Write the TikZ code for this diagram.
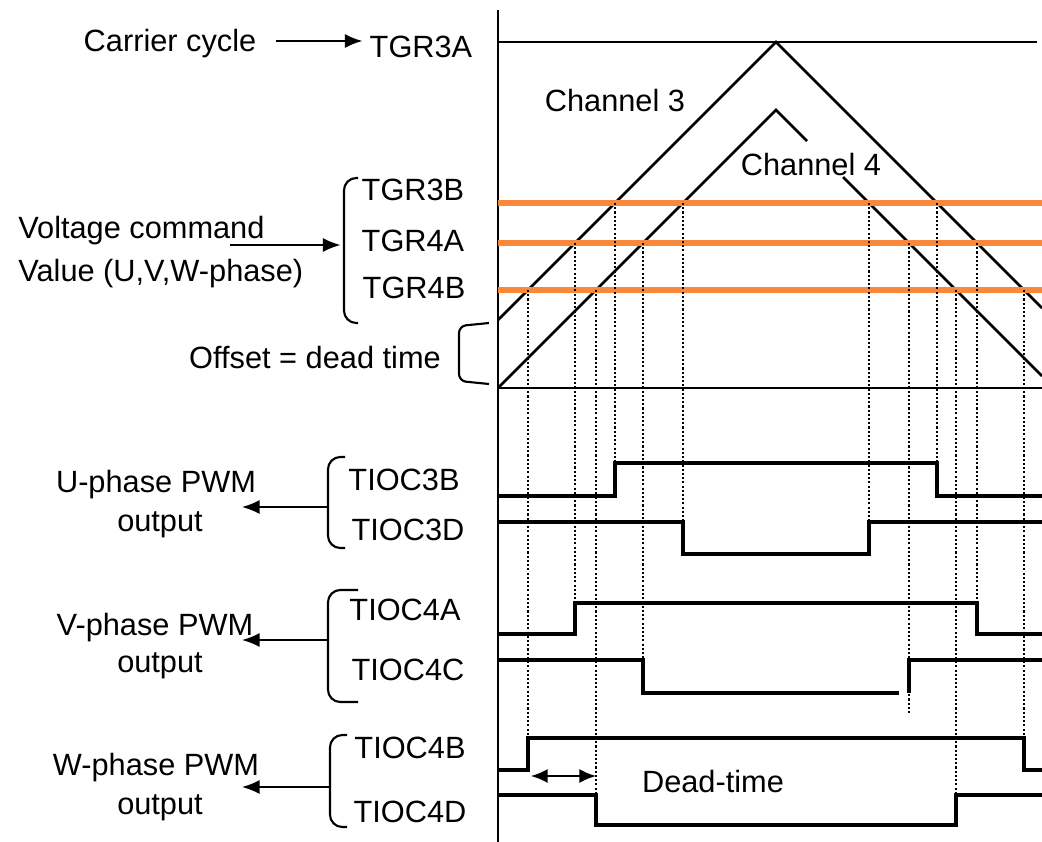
\documentclass[tikz,border=0pt]{standalone}
\usepackage{fontspec}
\setmainfont{Liberation Sans}
\usepackage{xcolor}
\usetikzlibrary{arrows.meta}
\definecolor{cmdorange}{RGB}{247,136,60}

\begin{document}
\begin{tikzpicture}[x=0.02cm,y=-0.02cm,
    lbl/.style={font=\fontsize{17.5}{21}\selectfont,inner sep=0pt,text height=12.5pt,text depth=0pt},
    axis line/.style={line width=1.6pt},
    wave/.style={line width=2.7pt,line join=miter},
    cmd line/.style={line width=3.2pt,draw=cmdorange},
    dot line/.style={line width=1.1pt,dash pattern=on 1.2pt off 1.2pt},
    bracket/.style={line width=1.2pt,rounded corners=7pt},
    arr/.style={line width=0.95pt,-{Latex[length=10pt,width=8pt]}},
    darr/.style={line width=0.95pt,{Latex[length=9.5pt,width=8pt]}-{Latex[length=9.5pt,width=8pt]}}]
  \useasboundingbox (0,0) rectangle (1042,842);

  \draw[axis line] (498,10) -- (498,842);
  \draw[axis line] (498,42) -- (1037,42);
  \draw[axis line] (498,388) -- (1042,388);
  \draw[axis line] (498,320) -- (776,42) -- (1042,308);
  \draw[axis line] (498,388) -- (776,110) -- (807,141);
  \draw[axis line] (843,177) -- (1042,376);

  \foreach \y in {203,243,290}
    \draw[cmd line] (498,\y) -- (1042,\y);

  \foreach \x/\ya/\yb in {528/290/738,575/243/603,596/290/795,615/203/463,
      643/243/660,683/203/522,869/203/522,909/243/713,937/203/463,
      956/290/795,977/243/603,1024/290/738}
    \draw[dot line] (\x,\ya) -- (\x,\yb);

  \draw[wave] (498,496) -- (615,496) -- (615,463) -- (937,463) -- (937,496) -- (1042,496);
  \draw[wave] (498,522) -- (683,522) -- (683,554) -- (869,554) -- (869,522) -- (1042,522);
  \draw[wave] (498,634) -- (575,634) -- (575,603) -- (977,603) -- (977,634) -- (1042,634);
  \draw[wave] (498,660) -- (643,660) -- (643,693) -- (899,693);
  \draw[wave] (909,693) -- (909,660) -- (1042,660);
  \draw[wave] (498,770) -- (528,770) -- (528,738) -- (1024,738) -- (1024,770) -- (1042,770);
  \draw[wave] (498,795) -- (596,795) -- (596,825) -- (956,825) -- (956,795) -- (1042,795);

  \node[lbl] (carrier) at (170,41) {Carrier cycle};
  \node[lbl] (tgr3a) at (421,47) {TGR3A};
  \node[lbl] (ch3) at (615,101) {Channel 3};
  \node[lbl] (ch4) at (811,165) {Channel 4};
  \node[lbl] (tgr3b) at (413,190) {TGR3B};
  \node[lbl] (tgr4a) at (413,241) {TGR4A};
  \node[lbl] (tgr4b) at (414,288) {TGR4B};
  \node[lbl,anchor=west] (volt) at (18,228) {Voltage command};
  \node[lbl,anchor=west] (voltval) at (18,271) {Value (U,V,W-phase)};
  \node[lbl] (offset) at (315,358) {Offset = dead time};

  \node[lbl] (uphase) at (156,482) {U-phase PWM};
  \node[lbl] (uout) at (160,521) {output};
  \node[lbl] (vphase) at (155,625) {V-phase PWM};
  \node[lbl] (vout) at (160,662) {output};
  \node[lbl] (wphase) at (156,765) {W-phase PWM};
  \node[lbl] (wout) at (160,804) {output};
  \node[lbl] (tioc3b) at (404,480) {TIOC3B};
  \node[lbl] (tioc3d) at (408,530) {TIOC3D};
  \node[lbl] (tioc4a) at (405,610) {TIOC4A};
  \node[lbl] (tioc4c) at (408,670) {TIOC4C};
  \node[lbl] (tioc4b) at (410,748) {TIOC4B};
  \node[lbl] (tioc4d) at (410,812) {TIOC4D};
  \node[lbl] (deadtime) at (713,782) {Dead-time};

  \draw[bracket] (358,178) -- (344,178) -- (344,245) coordinate (vbr) -- (344,323) -- (358,323);
  \draw[bracket,rounded corners=4pt] (489,323) -- (459,326) -- (459,381) -- (489,384);
  \draw[bracket] (345,457) -- (328,457) -- (328,507) coordinate (ubr) -- (328,548) -- (345,548);
  \draw[bracket] (358,590) -- (328,590) -- (328,640) coordinate (vpbr) -- (328,702) -- (358,702);
  \draw[bracket] (347,735) -- (330,735) -- (330,787) coordinate (wbr) -- (330,827) -- (347,827);

  \coordinate (vin) at (230,245);
  \coordinate (uend) at (242,507);
  \coordinate (vend) at (242,640);
  \coordinate (wend) at (242,787);
  \coordinate (dt1) at (531,776);
  \coordinate (dt2) at (596,776);

  \draw[arr,shorten <=11pt,shorten >=4pt] (carrier.east) -- (carrier.east -| tgr3a.west);
  \draw[arr,shorten >=2pt] (vin) -- (vbr);
  \draw[arr] (ubr) -- (uend);
  \draw[arr] (vpbr) -- (vend);
  \draw[arr] (wbr) -- (wend);
  \draw[darr] (dt1) -- (dt2);
\end{tikzpicture}
\end{document}
